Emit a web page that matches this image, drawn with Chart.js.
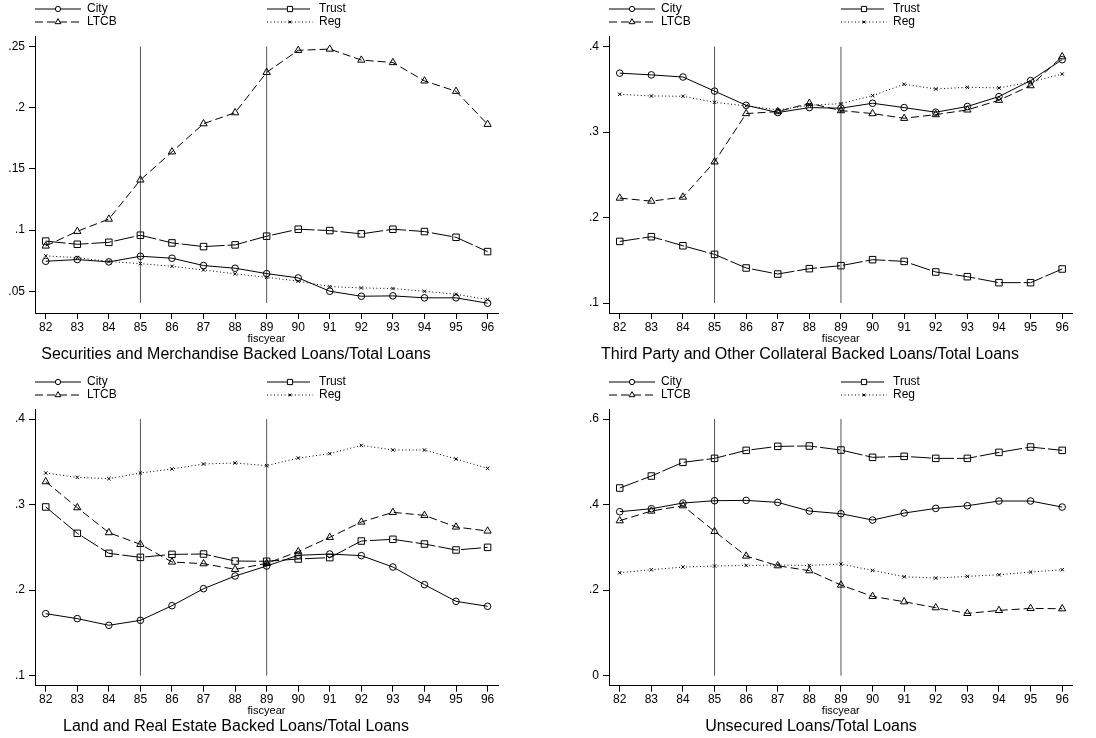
<!DOCTYPE html>
<html>
<head>
<meta charset="utf-8">
<script src="https://cdn.jsdelivr.net/npm/chart.js@4.4.1/dist/chart.umd.min.js"></script>
<style>
  body { margin: 0; background: #fff; width: 1096px; height: 738px; position: relative; overflow: hidden;
         font-family: "Liberation Sans", Arial, sans-serif; }
  .panel { position: absolute; width: 548px; height: 369px; }
  .panel canvas { position: absolute; left: 0; top: 0; }
  .ttl { position: absolute; font-size: 16px; line-height: 18px; white-space: nowrap; color: #000;
         transform: translateX(-50%); }
</style>
</head>
<body>
<div class="panel" style="left:0;top:0"><canvas id="c1" width="548" height="369"></canvas></div>
<div class="panel" style="left:548px;top:0"><canvas id="c2" width="548" height="369"></canvas></div>
<div class="panel" style="left:0;top:369px"><canvas id="c3" width="548" height="369"></canvas></div>
<div class="panel" style="left:548px;top:369px"><canvas id="c4" width="548" height="369"></canvas></div>
<div class="ttl" style="left:236px;top:345px">Securities and Merchandise Backed Loans/Total Loans</div>
<div class="ttl" style="left:810px;top:345px">Third Party and Other Collateral Backed Loans/Total Loans</div>
<div class="ttl" style="left:236px;top:717px">Land and Real Estate Backed Loans/Total Loans</div>
<div class="ttl" style="left:811px;top:717px">Unsecured Loans/Total Loans</div>
<script>
// ===== Data (fiscal years 82-96) =====
const years = [82, 83, 84, 85, 86, 87, 88, 89, 90, 91, 92, 93, 94, 95, 96];
const seriesNames = ["City", "Trust", "LTCB", "Reg"];
const eventYears = [85, 89];

// Securities and merchandise backed loans / total loans
const secCity  = [.0745, .0759, .0740, .0786, .0770, .0710, .0688, .0644, .0609, .0500, .0459, .0462, .0446, .0446, .0402];
const secTrust = [.0910, .0884, .0900, .0958, .0895, .0865, .0879, .0950, .1007, .0996, .0969, .1007, .0988, .0941, .0824];
const secLtcb  = [.087, .099, .109, .141, .164, .187, .196, .229, .247, .248, .239, .237, .222, .2135, .1865];
const secReg   = [.0789, .0775, .0743, .0726, .0704, .0674, .0642, .0614, .0582, .0538, .0527, .0522, .0500, .0475, .0432];

// Third party and other collateral backed loans / total loans
const thirdCity  = [.369, .367, .3645, .348, .3314, .3229, .3287, .328, .3338, .3287, .3233, .330, .3416, .3603, .3848];
const thirdTrust = [.1721, .1776, .167, .1569, .141, .1339, .1402, .1437, .1507, .1487, .1363, .1308, .1238, .1238, .1398];
const thirdLtcb  = [.2228, .2192, .224, .2652, .3217, .324, .3338, .3252, .3217, .3162, .3205, .326, .3373, .3544, .3883];
const thirdReg   = [.3443, .3423, .342, .3349, .3307, .326, .3314, .3334, .3427, .356, .3505, .3525, .3517, .3587, .368];

// Land and real estate backed loans / total loans
const landCity  = [.1725, .1667, .1589, .1647, .1818, .2017, .2165, .2282, .2407, .2422, .2403, .227, .2064, .1869, .1811];
const landTrust = [.2972, .2664, .243, .2383, .2418, .2422, .234, .2337, .2364, .238, .2574, .2594, .2539, .2469, .250];
const landLtcb  = [.3268, .2964, .2672, .2535, .2329, .2309, .2243, .2313, .245, .2617, .2796, .2909, .2874, .2738, .2691];
const landReg   = [.3369, .3318, .3303, .3369, .3416, .3474, .3486, .3455, .3544, .3595, .3692, .3638, .3638, .3533, .3423];

// Unsecured loans / total loans
const unsecCity  = [.3833, .3903, .4036, .409, .4098, .4051, .3849, .3786, .3638, .3802, .3911, .3973, .4083, .4083, .3942];
const unsecTrust = [.4387, .4667, .4987, .508, .5267, .5361, .5369, .5275, .5104, .5127, .508, .508, .522, .5345, .5267];
const unsecLtcb  = [.3623, .3849, .3973, .3373, .2797, .2571, .2454, .2119, .1854, .1729, .1589, .1456, .1526, .1573, .1565];
const unsecReg   = [.2407, .2477, .2539, .2563, .2578, .2586, .2578, .261, .2461, .2313, .2282, .2321, .236, .2422, .2477];

// y tick values and the span of the event lines in each panel
const secTicks   = [.05, .1, .15, .2, .25];
const thirdTicks = [.1, .2, .3, .4];
const landTicks  = [.1, .2, .3, .4];
const unsecTicks = [0, .2, .4, .6];
const secSpan   = [.0404, .25];
const thirdSpan = [.1, .4];
const landSpan  = [.1, .4];
const unsecSpan = [0, .6];

// ===== Styles =====
const FONT = "'Liberation Sans', Arial, sans-serif";
const seriesStyle = {
  City:  { dash: [],     point: "circle",   radius: 3.3 },
  Trust: { dash: [20, 3], point: "rect",    radius: 4.6 },
  LTCB:  { dash: [8, 4],  point: "triangle", radius: 4.2 },
  Reg:   { dash: [1, 2.5], point: "crossRot", radius: 2.4 }
};

function fmtTick(v) {
  if (v === 0) return "0";
  return String(+v.toFixed(3)).replace(/^0\./, ".");
}

// legend drawn above the plot, two columns like Stata
const stataLegend = {
  id: "stataLegend",
  afterDraw(chart) {
    const ctx = chart.ctx;
    const a = chart.chartArea;
    const cells = [
      { name: "City",  x: a.left,         y: a.top - 27 },
      { name: "LTCB",  x: a.left,         y: a.top - 14 },
      { name: "Trust", x: a.left + 232,   y: a.top - 27 },
      { name: "Reg",   x: a.left + 232,   y: a.top - 14 }
    ];
    ctx.save();
    cells.forEach(c => {
      const st = seriesStyle[c.name];
      ctx.strokeStyle = "#000";
      ctx.lineWidth = 1;
      ctx.setLineDash(st.dash);
      ctx.beginPath();
      ctx.moveTo(c.x, c.y);
      ctx.lineTo(c.x + 46, c.y);
      ctx.stroke();
      ctx.setLineDash([]);
      ctx.fillStyle = "rgba(255,255,255,1)";
      if (Chart.helpers && Chart.helpers.drawPoint) {
        Chart.helpers.drawPoint(ctx, { pointStyle: st.point, radius: st.radius * 0.8, borderWidth: 1, rotation: 0 }, c.x + 23, c.y);
      }
      ctx.fillStyle = "#000";
      ctx.font = "12px " + FONT;
      ctx.textBaseline = "middle";
      ctx.textAlign = "left";
      ctx.fillText(c.name, c.x + 52, c.y);
    });
    ctx.restore();
  }
};

function makePanel(id, series, yTicks, span, box) {
  const ctx = document.getElementById(id).getContext("2d");
  const datasets = [];
  eventYears.forEach(yr => {
    datasets.push({
      label: "event" + yr,
      data: [{ x: yr, y: span[0] }, { x: yr, y: span[1] }],
      borderColor: "#555",
      borderWidth: 1,
      pointRadius: 0,
      order: 10
    });
  });
  seriesNames.forEach((name, k) => {
    const st = seriesStyle[name];
    datasets.push({
      label: name,
      data: years.map((yr, i) => ({ x: yr, y: series[k][i] })),
      borderColor: "#000",
      borderWidth: 1,
      borderDash: st.dash,
      tension: 0,
      pointStyle: st.point,
      pointRadius: st.radius,
      pointBorderWidth: 1,
      pointBorderColor: "#000",
      pointBackgroundColor: "rgba(0,0,0,0)",
      order: k + 1
    });
  });

  new Chart(ctx, {
    type: "line",
    data: { datasets },
    options: {
      responsive: false,
      animation: false,
      devicePixelRatio: 1,
      events: [],
      layout: { padding: { left: 0, top: box.top, right: 548 - box.right, bottom: 0 } },
      plugins: { legend: { display: false }, tooltip: { enabled: false } },
      scales: {
        x: {
          type: "linear",
          min: 81.66,
          max: 96.33,
          afterBuildTicks: s => { s.ticks = years.map(v => ({ value: v })); },
          afterFit: s => { s.height = 369 - box.bottom; },
          grid: { drawOnChartArea: false, drawTicks: true, tickLength: 6, color: "#000" },
          border: { display: true, color: "#000", width: 1 },
          ticks: { color: "#000", padding: 1, font: { size: 12, family: FONT }, maxRotation: 0,
                   callback: v => String(v) },
          title: { display: true, text: "fiscyear", color: "#000", font: { size: 11, family: FONT },
                   padding: { top: 0, bottom: box.fisPad } }
        },
        y: {
          type: "linear",
          min: box.ymin,
          max: box.ymax,
          afterBuildTicks: s => { s.ticks = yTicks.map(v => ({ value: v })); },
          afterFit: s => { s.width = box.left; },
          grid: { drawOnChartArea: false, drawTicks: true, tickLength: 6, color: "#000" },
          border: { display: true, color: "#000", width: 1 },
          ticks: { color: "#000", padding: 4, font: { size: 12, family: FONT }, callback: v => fmtTick(v) }
        }
      }
    },
    plugins: [stataLegend]
  });
}

makePanel("c1", [secCity, secTrust, secLtcb, secReg], secTicks, secSpan,
  { left: 35, right: 498, top: 36, bottom: 313, ymin: .0322, ymax: .2587, fisPad: 23 });
makePanel("c2", [thirdCity, thirdTrust, thirdLtcb, thirdReg], thirdTicks, thirdSpan,
  { left: 61, right: 524.6, top: 36, bottom: 313, ymin: .0883, ymax: .4125, fisPad: 23 });
makePanel("c3", [landCity, landTrust, landLtcb, landReg], landTicks, landSpan,
  { left: 35, right: 498, top: 40, bottom: 316.7, ymin: .0883, ymax: .4117, fisPad: 20.5 });
makePanel("c4", [unsecCity, unsecTrust, unsecLtcb, unsecReg], unsecTicks, unsecSpan,
  { left: 61, right: 524.6, top: 40, bottom: 316.7, ymin: -.0234, ymax: .6234, fisPad: 20.5 });
</script>
</body>
</html>
